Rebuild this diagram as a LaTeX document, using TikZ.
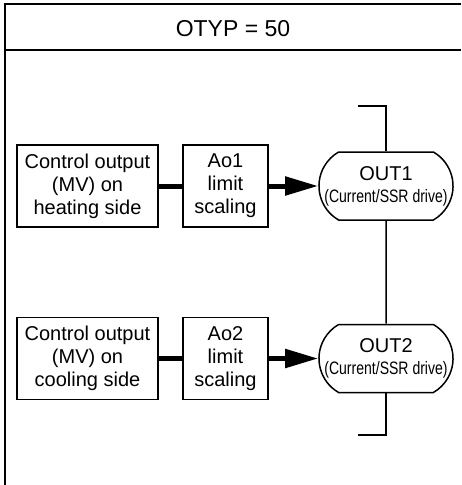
\documentclass[tikz,border=0pt]{standalone}
\usepackage{fontspec}
\setmainfont{Liberation Sans}
\newfontfamily\narrowfont[FakeStretch=0.78]{Liberation Sans}
\usetikzlibrary{arrows.meta,shapes.misc}

\begin{document}
\begin{tikzpicture}[x=1pt, y=-1pt,
    blockbox/.style={draw, rectangle, line width=1.5, minimum height=82, inner sep=0,
        align=center, font=\fontsize{20}{23}\selectfont},
    outbox/.style={draw, rounded rectangle, rounded rectangle arc length=120, line width=1.5,
        minimum width=132, minimum height=68, inner sep=0, align=center,
        font=\fontsize{20}{22}\selectfont},
    thick link/.style={line width=5},
    thick arrow/.style={line width=5, -{Triangle[length=33pt, width=18pt]}},
    bus/.style={line width=1.5}]
    \useasboundingbox (0,0) rectangle (461,485);

    % Frame and header
    \draw[line width=2.2] (461,4) -- (5,4) -- (5,485);
    \draw[line width=2.2] (5,50) -- (461,50);
    \node[font=\fontsize{23}{26}\selectfont] (otyp) at (233,29) {OTYP = 50};

    % Heating side
    \node[blockbox, minimum width=141] (heat) at (87.5,186)
        {Control output\\(MV) on\\heating side};
    \node[blockbox, minimum width=85] (ao1) at (225.5,186)
        {Ao1\\limit\\scaling};
    \node[outbox] (out1) at (386,186)
        {OUT1\\{\narrowfont\fontsize{18}{20}\selectfont (Current/SSR drive)}};

    % Cooling side
    \node[blockbox, minimum width=141] (cool) at (87.5,358.5)
        {Control output\\(MV) on\\cooling side};
    \node[blockbox, minimum width=85] (ao2) at (225.5,358.5)
        {Ao2\\limit\\scaling};
    \node[outbox] (out2) at (386,358.5)
        {OUT2\\{\narrowfont\fontsize{18}{20}\selectfont (Current/SSR drive)}};

    % Stub ends
    \coordinate (stubtop) at (358,106);
    \coordinate (stubbot) at (358,435);

    % Arrows
    \draw[thick link] (heat) -- (ao1);
    \draw[thick arrow] (ao1) -- (out1);
    \draw[thick link] (cool) -- (ao2);
    \draw[thick arrow] (ao2) -- (out2);

    % Output line
    \draw[bus] (stubtop) -| (out1);
    \draw[bus] (out1) -- (out2);
    \draw[bus] (out2) |- (stubbot);

\end{tikzpicture}
\end{document}
